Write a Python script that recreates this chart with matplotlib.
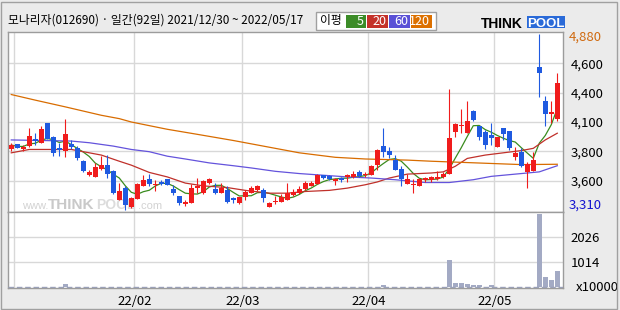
import matplotlib
matplotlib.use('Agg')
import matplotlib.pyplot as plt
from matplotlib.patches import Rectangle
import numpy as np
import pandas as pd

plt.rcParams['font.family'] = ['Liberation Sans Narrow', 'Noto Sans CJK KR', 'DejaVu Sans']

title = '모나리자(012690) · 일간(92일) 2021/12/30 ~ 2022/05/17'
legend_title = '이평'
ma_names = ['5', '20', '60', '120']

# daily candles, 2021/12/30 .. 2022/05/17 (92 trading days)
opens = [3855, 3895, 3850, 3880, 3945, 3910, 4085, 3960, 3865, 3840,
         3900, 3865, 3745, 3625, 3600, 3675, 3710, 3660, 3400, 3505,
         3340, 3410, 3520, 3585, 3530, 3560, 3585, 3500, 3435, 3365,
         3375, 3505, 3460, 3550, 3500, 3460, 3490, 3415, 3370, 3425,
         3465, 3490, 3490, 3340, 3380, 3385, 3400, 3440, 3460, 3495,
         3525, 3540, 3620, 3615, 3570, 3590, 3605, 3600, 3645, 3620,
         3620, 3715, 3880, 3835, 3760, 3675, 3545, 3535, 3525, 3580,
         3575, 3585, 3600, 3630, 4005, 4060, 3995, 4195, 4060, 4005,
         3975, 3875, 4040, 4015, 3785, 3830, 3650, 3655, 4590, 4285,
         4165, 4120]
highs = [3905, 3900, 3890, 4040, 3995, 4060, 4085, 3970, 3905, 4120,
         3930, 3885, 3755, 3665, 3730, 3790, 3800, 3665, 3550, 3520,
         3430, 3550, 3620, 3630, 3580, 3580, 3585, 3535, 3435, 3395,
         3540, 3595, 3580, 3595, 3550, 3555, 3520, 3430, 3430, 3490,
         3525, 3535, 3505, 3380, 3435, 3455, 3555, 3495, 3520, 3570,
         3570, 3630, 3620, 3620, 3595, 3605, 3635, 3660, 3665, 3645,
         3710, 3855, 4040, 3875, 3800, 3700, 3635, 3585, 3595, 3605,
         3615, 3660, 3650, 4385, 4090, 4210, 4285, 4200, 4060, 4025,
         4085, 3960, 4040, 4015, 3870, 3860, 3740, 3830, 4880, 4325,
         4285, 4535]
lows = [3840, 3860, 3840, 3875, 3890, 3905, 3940, 3790, 3790, 3785,
        3850, 3755, 3645, 3615, 3600, 3665, 3595, 3455, 3395, 3310,
        3325, 3410, 3520, 3525, 3480, 3535, 3535, 3445, 3355, 3345,
        3370, 3460, 3455, 3540, 3455, 3460, 3375, 3375, 3365, 3400,
        3465, 3475, 3385, 3335, 3365, 3380, 3400, 3435, 3455, 3490,
        3520, 3540, 3585, 3580, 3535, 3560, 3560, 3595, 3605, 3605,
        3620, 3665, 3785, 3775, 3665, 3525, 3545, 3460, 3525, 3560,
        3560, 3580, 3595, 3630, 3965, 3995, 3995, 4100, 3935, 3850,
        3890, 3870, 3935, 3845, 3755, 3695, 3510, 3655, 4320, 4055,
        4085, 4100]
closes = [3890, 3865, 3875, 3970, 3925, 4030, 3940, 3820, 3845, 3990,
          3870, 3770, 3660, 3645, 3695, 3710, 3630, 3465, 3475, 3350,
          3420, 3540, 3580, 3540, 3540, 3540, 3535, 3465, 3375, 3385,
          3510, 3525, 3570, 3585, 3460, 3510, 3385, 3395, 3425, 3470,
          3510, 3520, 3415, 3375, 3390, 3430, 3460, 3470, 3495, 3555,
          3550, 3620, 3595, 3585, 3585, 3580, 3625, 3635, 3615, 3630,
          3700, 3845, 3830, 3800, 3665, 3585, 3585, 3545, 3585, 3595,
          3600, 3605, 3635, 3950, 4075, 4065, 4105, 4115, 3960, 3890,
          3950, 3960, 3990, 3860, 3820, 3700, 3720, 3755, 4535, 4165,
          4180, 4445]
# volume, x10000 shares
volumes = [12, 12, 12, 12, 12, 12, 12, 12, 12, 120,
           12, 12, 12, 12, 12, 12, 12, 12, 12, 12,
           12, 12, 12, 12, 12, 12, 12, 12, 12, 12,
           12, 12, 12, 12, 12, 12, 12, 12, 12, 12,
           12, 12, 12, 12, 12, 12, 12, 12, 12, 12,
           12, 12, 12, 12, 12, 12, 12, 12, 12, 12,
           12, 12, 80, 12, 12, 12, 12, 12, 12, 12,
           12, 12, 12, 1090, 175, 175, 120, 80, 80, 12,
           80, 12, 12, 12, 12, 12, 12, 12, 2955, 420,
           285, 660]

# longer moving averages (need history before the window)
ma20_day = [0, 3, 10, 13, 15, 18, 20, 23, 26, 29, 32, 36, 39, 43, 46, 49, 53, 56, 59, 61,
            63, 66, 70, 72, 73, 74, 76, 79, 82, 85, 87, 89, 91]
ma20 = [3820, 3850, 3850, 3820, 3800, 3745, 3710, 3645, 3605, 3550, 3525, 3510, 3485, 3460,
        3460, 3475, 3485, 3505, 3535, 3560, 3595, 3630, 3640, 3650, 3675, 3700, 3770, 3800,
        3820, 3840, 3860, 3935, 3995]
ma60_day = [0, 10, 13, 17, 20, 23, 26, 29, 33, 37, 40, 44, 48, 52, 56, 60, 64, 69, 73, 77,
            80, 85, 88, 91]
ma60 = [3935, 3925, 3910, 3880, 3850, 3830, 3790, 3765, 3730, 3705, 3685, 3655, 3635, 3620,
        3605, 3595, 3580, 3555, 3555, 3580, 3610, 3635, 3650, 3705]
ma120_day = [0, 4, 9, 15, 18, 20, 26, 31, 37, 43, 48, 54, 59, 66, 70, 75, 80, 85, 91]
ma120 = [4340, 4290, 4230, 4155, 4125, 4095, 4030, 3985, 3930, 3870, 3820, 3780, 3765, 3755,
         3745, 3735, 3725, 3715, 3718]

month_start = [1, 21, 39, 60, 81]
month_labels = ['', '22/02', '22/03', '22/04', '22/05']
vol_ticks = [1014, 2026]

C_UP, C_DN = '#f01c1c', '#1f5ae0'
C_MA = ['#3a8c1e', '#c0302a', '#6453dc', '#d86c00']
C_BOX = ['#3c8c28', '#c4322a', '#5a50d6', '#dc7000']
GRID = '#d8d8d8'
EDGE = '#9c9c9c'

W, H = 620, 310
fig = plt.figure(figsize=(W / 100, H / 100), dpi=100, facecolor='#ebebeb')


def frac(x0, y0, x1, y1):
    return [x0 / W, 1 - y1 / H, (x1 - x0) / W, (y1 - y0) / H]


ax = fig.add_axes(frac(8, 32, 562.5, 212))
axv = fig.add_axes(frac(8, 212, 562.5, 288), sharex=ax)

days = np.arange(len(closes))
o = np.array(opens)
c = np.array(closes)
up = c >= o
cols = np.where(up, C_UP, C_DN)
body_h = np.maximum(np.abs(c - o), 12)
body_lo = (o + c) / 2 - body_h / 2

ax.vlines(days, lows, highs, colors=cols, lw=0.8, zorder=3)
ax.bar(days, body_h, bottom=body_lo, width=0.78, color=cols, linewidth=0, zorder=4)

ma5 = pd.Series(closes).rolling(5, min_periods=1).mean()
ax.plot(days, ma5, color=C_MA[0], lw=0.9, zorder=2)
ax.plot(ma20_day, ma20, color=C_MA[1], lw=0.9, zorder=2)
ax.plot(ma60_day, ma60, color=C_MA[2], lw=0.9, zorder=2)
ax.plot(ma120_day, ma120, color=C_MA[3], lw=0.9, zorder=2)

hi, lo = max(highs), min(lows)
grid_vals = np.linspace(hi, lo, 7)[1:-1]
ax.set_ylim(3292, 4898)
ax.set_yticks(grid_vals, [f'{int(round(v, -2)):,}' for v in grid_vals])
ax.yaxis.tick_right()
ax.tick_params(axis='y', length=0, pad=6, labelsize=9.5)
ax.annotate(f'{hi:,}', xy=(1, hi), xycoords=('axes fraction', 'data'), xytext=(6, -3),
            textcoords='offset pixels', va='center', ha='left', fontsize=9.5, color='#d06a10')
ax.annotate(f'{lo:,}', xy=(1, lo), xycoords=('axes fraction', 'data'), xytext=(6, 5),
            textcoords='offset pixels', va='center', ha='left', fontsize=9.5, color='#1414d0')

axv.bar(days, volumes, width=0.78, color='#a3aac4', linewidth=0, zorder=3)
axv.axhline(15, color='#9aa0b8', lw=1, dashes=(4, 2), zorder=4)
axv.set_ylim(-40, 3040)
axv.set_yticks(vol_ticks, [str(v) for v in vol_ticks])
axv.yaxis.tick_right()
axv.tick_params(axis='y', length=0, pad=6, labelsize=9.5)
axv.text(1.024, 0, 'x10000', transform=axv.get_yaxis_transform(), ha='left', va='center',
         fontsize=9.5)

axv.set_xticks(np.array(month_start) - 0.5, month_labels)
axv.set_xlim(-0.55, 91.87)
axv.tick_params(axis='x', length=0, pad=5, labelsize=9.5)
ax.tick_params(axis='x', length=0, labelbottom=False)

for a in (ax, axv):
    a.set_facecolor('white')
    a.grid(True, color=GRID, lw=1, zorder=0)
    a.set_axisbelow(True)
    for s in a.spines.values():
        s.set_color(EDGE)
        s.set_linewidth(1)

# watermark
wm = [(22, 'www.', 8, 'normal', '#d2d2d2'), (48, 'THINK', 11, 'bold', '#c9c9c9'),
      (96, 'POOL', 10, 'bold', '#dcdcdc'), (138, '.com', 8, 'normal', '#d2d2d2')]
for xp, s, fs, fw, col in wm:
    ax.text(xp / W, 1 - 209 / H, s, transform=fig.transFigure, fontsize=fs, fontweight=fw,
            color=col, family=['Liberation Sans', 'DejaVu Sans'], zorder=1)

# header
fig.text(8 / W, 1 - 20.5 / H, title, fontsize=8.5, va='center', ha='left')
fig.add_artist(Rectangle((316 / W, 1 - 29.5 / H), 120 / W, 17.5 / H, transform=fig.transFigure,
                         facecolor='white', edgecolor='#a0a0a0', lw=1))
fig.text(320 / W, 1 - 20.5 / H, legend_title, fontsize=8.5, va='center', ha='left')
box_x = [(346, 366), (367, 388), (389, 410), (411, 432)]
for (x0, x1), name, col in zip(box_x, ma_names, C_BOX):
    fig.add_artist(Rectangle((x0 / W, 1 - 27.5 / H), (x1 - x0) / W, 12.5 / H,
                             transform=fig.transFigure, facecolor=col, edgecolor='none'))
    fig.text((x1 - 2) / W, 1 - 21.3 / H, name, fontsize=9, color='white', va='center', ha='right')

fig.add_artist(Rectangle((527 / W, 1 - 28 / H), 38 / W, 12.5 / H, transform=fig.transFigure,
                         facecolor='#2a6ad8', edgecolor='none'))
fig.text(481 / W, 1 - 27.5 / H, 'THINK', fontsize=10, fontweight='bold', color='black',
         family=['Liberation Sans', 'DejaVu Sans'], va='baseline')
fig.text(546 / W, 1 - 27.2 / H, 'POOL', fontsize=9.5, fontweight='bold', color='white',
         family=['Liberation Sans', 'DejaVu Sans'], va='baseline', ha='center')

fig.add_artist(Rectangle((0.5 / W, 1.5 / H), 616 / W, 307 / H, transform=fig.transFigure,
                         fill=False, edgecolor='#a0a0a0', lw=1))

fig.savefig('out.png', dpi=100, facecolor=fig.get_facecolor())
